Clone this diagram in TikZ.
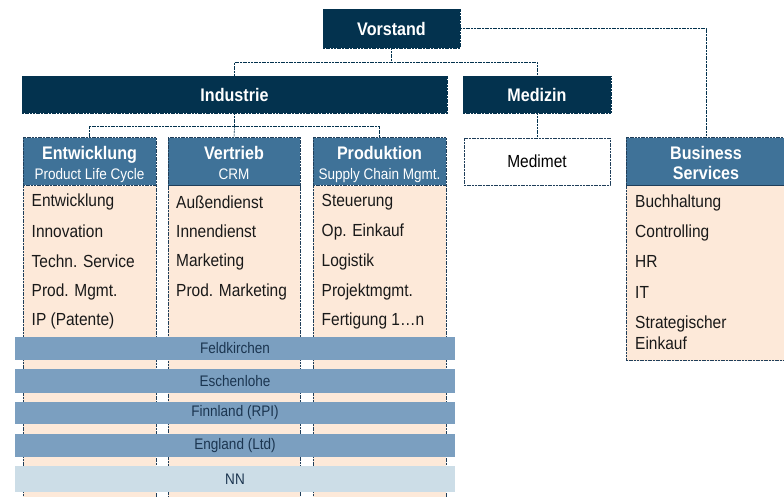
\documentclass[tikz,border=0pt]{standalone}
\usepackage{fontspec}
\setmainfont[FakeStretch=0.885]{Liberation Sans}
\usetikzlibrary{calc}
\definecolor{navy}{HTML}{03324E}
\definecolor{headblue}{HTML}{3F7298}
\definecolor{peach}{HTML}{FDE9D9}
\definecolor{bandblue}{HTML}{7B9FC0}
\definecolor{bandlight}{HTML}{CCDDE7}
\definecolor{edge}{HTML}{1F3E5A}
\definecolor{bandtext}{HTML}{1B3550}
\newcommand{\bigf}{\fontsize{17.5}{20}\selectfont}
\newcommand{\boldf}{\fontsize{18.2}{20}\selectfont\bfseries}
\newcommand{\subf}{\fontsize{15.3}{20}\selectfont}
% fixed top and bottom struts so every two-line header sits alike
\newcommand{\hdtop}{\rule{0pt}{20pt}}
\newcommand{\hdbot}{\rule[-4pt]{0pt}{4pt}}
\tikzset{
  thin dash/.style={dash pattern=on 2pt off 0.7pt, line width=0.6pt},
  topbox/.style={draw=navy, thin dash, fill=navy, text=white, inner sep=0pt,
    font=\boldf},
  headbox/.style={draw=edge, thin dash, fill=headblue, text=white, inner sep=0pt,
    align=center, font=\bigf},
  bodybox/.style={draw=edge, thin dash, fill=peach, inner sep=0pt},
  plainbox/.style={draw=edge, thin dash, fill=white, inner sep=0pt, font=\bigf},
  item/.style={anchor=west, inner sep=0pt, font=\bigf, text=black!90},
  band/.style={fill=bandblue, inner sep=0pt, minimum width=440pt,
    font=\subf, text=bandtext},
  link/.style={draw=navy, thin dash},
}
\begin{document}
\begin{tikzpicture}[x=1pt, y=-1pt]
\clip (0,0) rectangle (784,496);
\fill[white] (0,0) rectangle (784,496);

% top level
\node[topbox, minimum width=137pt, minimum height=39pt] (vorstand) at (391.5,28.5) {Vorstand};
\node[topbox, minimum width=425pt, minimum height=37pt] (industrie) at (234.5,94.5) {Industrie};
\node[topbox, minimum width=148pt, minimum height=37pt] (medizin) at (537,94.5) {Medizin};
\node[plainbox, minimum width=146pt, minimum height=47pt] (medimet) at (537,161.5) {Medimet};

% division headers
\node[headbox, minimum width=133pt, minimum height=47.5pt] (enthead) at (89.5,161.25)
  {\hdtop{\boldf Entwicklung}\\{\subf Product Life Cycle}\hdbot};
\node[headbox, minimum width=132pt, minimum height=47.5pt] (verhead) at (234,161.25)
  {\hdtop{\boldf Vertrieb}\\{\subf CRM}\hdbot};
\node[headbox, minimum width=133pt, minimum height=47.5pt] (prodhead) at (379.5,161.25)
  {\hdtop{\boldf Produktion}\\{\subf Supply Chain Mgmt.}\hdbot};
\node[headbox, minimum width=160pt, minimum height=47.5pt] (bshead) at (706,161.25)
  {\hdtop{\boldf Business}\\{\boldf Services}\hdbot};

% division bodies
\node[bodybox, anchor=north, minimum width=133pt, minimum height=330pt] (entbody) at (enthead.south) {};
\node[bodybox, anchor=north, minimum width=132pt, minimum height=330pt] (verbody) at (verhead.south) {};
\node[bodybox, anchor=north, minimum width=133pt, minimum height=330pt] (prodbody) at (prodhead.south) {};
\node[bodybox, anchor=north, minimum width=160pt, minimum height=175pt] (bsbody) at (bshead.south) {};

% connectors
\coordinate (vj) at ($(vorstand.south)+(0,14)$);
\draw[link] (vorstand.south) -- (vj);
\draw[link] (industrie.north) |- (vj) -| (medizin.north);
\draw[link] (vorstand.east) -| (bshead.north);
\draw[link] (medizin.south) -- (medimet.north);
\coordinate (ij) at ($(industrie.south)+(0,12.5)$);
\draw[link] (industrie.south) -- (ij);
\draw[link] (enthead.north) |- (ij) -| (prodhead.north);
\draw[link] (ij) -- (verhead.north);

% Entwicklung
\node[item] (e1) at (31.5,202) {Entwicklung};
\node[item] (e2) at (31.5,231.5) {Innovation};
\node[item] (e3) at (31.5,261.5) {Techn. Service};
\node[item] (e4) at (31.5,291.5) {Prod. Mgmt.};
\node[item] (e5) at (31.5,321) {IP (Patente)};
% Vertrieb
\node[item] (v1) at (176,202) {Außendienst};
\node[item] (v2) at (176,231.5) {Innendienst};
\node[item] (v3) at (176,261.5) {Marketing};
\node[item] (v4) at (176,291.5) {Prod. Marketing};
% Produktion
\node[item] (p1) at (321.5,202) {Steuerung};
\node[item] (p2) at (321.5,231.5) {Op. Einkauf};
\node[item] (p3) at (321.5,261.5) {Logistik};
\node[item] (p4) at (321.5,291.5) {Projektmgmt.};
\node[item] (p5) at (321.5,321) {Fertigung 1…n};
% Business Services
\node[item] (b1) at (635,203) {Buchhaltung};
\node[item] (b2) at (635,232.5) {Controlling};
\node[item] (b3) at (635,261.5) {HR};
\node[item] (b4) at (635,292) {IT};
\node[item, align=left, font=\fontsize{17.5}{21}\selectfont] (b5) at (635,332.5) {Strategischer\\Einkauf};

% sites across the industrial divisions
\node[band, minimum height=23pt] (s1) at (235,348.5) {Feldkirchen};
\node[band, minimum height=23.5pt] (s2) at (235,381) {Eschenlohe};
\node[band, minimum height=22.5pt] (s3) at (235,413) {Finnland (RPI)};
\node[band, minimum height=23pt] (s4) at (235,445.5) {England (Ltd)};
\node[band, fill=bandlight, minimum height=25.5pt] (s5) at (235,479) {NN};
\end{tikzpicture}
\end{document}
